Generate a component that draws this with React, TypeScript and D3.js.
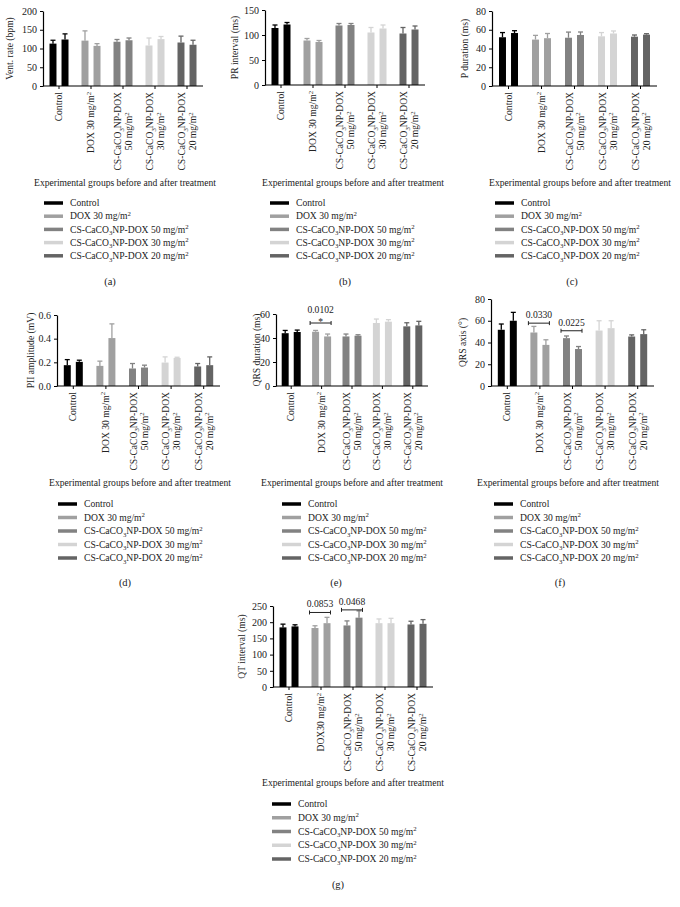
import React, { useEffect, useRef } from "react";
import * as d3 from "d3";

const FONT = "'Liberation Serif', 'Times New Roman', serif";
const FS = 9.6;

// groups and colours
const groupColors = ["#000000", "#a0a0a0", "#828282", "#d4d4d4", "#646464"];
const legendLabels = [
  "Control",
  "DOX 30 mg/m^2",
  "CS-CaCO_3NP-DOX 50 mg/m^2",
  "CS-CaCO_3NP-DOX 30 mg/m^2",
  "CS-CaCO_3NP-DOX 20 mg/m^2",
];
const tickLabels = [
  ["Control"],
  ["DOX 30 mg/m^2"],
  ["CS-CaCO_3NP-DOX", "50 mg/m^2"],
  ["CS-CaCO_3NP-DOX", "30 mg/m^2"],
  ["CS-CaCO_3NP-DOX", "20 mg/m^2"],
];
const tickLabelsQT = [
  ["Control"],
  ["DOX30 mg/m^2"],
  ["CS-CaCO_3NP-DOX", "50 mg/m^2"],
  ["CS-CaCO_3NP-DOX", "30 mg/m^2"],
  ["CS-CaCO_3NP-DOX", "20 mg/m^2"],
];
const xTitle = "Experimental groups before and after treatment";

// [before, after] per group
const ventRateMean = [[113, 124], [121, 107], [118, 122], [108, 125], [116, 110]];
const ventRateErr = [[9, 15], [26, 6], [6, 6], [20, 7], [17, 12]];

const prMean = [[114, 121], [89, 86], [119, 120], [105, 113], [103, 111]];
const prErr = [[6, 4], [4, 3], [4, 3], [10, 7], [12, 7]];

const pDurMean = [[52, 56.5], [49.5, 51], [51.5, 54.4], [53, 56], [52.6, 54.8]];
const pDurErr = [[5, 2.5], [4.5, 5], [6, 3.2], [4, 2.7], [1.8, 1]];

const piiMean = [[0.176, 0.204], [0.17, 0.405], [0.148, 0.156], [0.198, 0.237], [0.165, 0.176]];
const piiErr = [[0.047, 0.014], [0.04, 0.12], [0.042, 0.02], [0.048, 0.006], [0.025, 0.07]];

const qrsDurMean = [[44, 45], [45.2, 41.3], [41.3, 41.9], [52.5, 53.6], [49.7, 50.5]];
const qrsDurErr = [[2.3, 1.6], [1.1, 2], [2, 0.8], [3.3, 1.7], [3, 3.4]];

const qrsAxisMean = [[51.7, 60], [49.2, 37.8], [44, 34], [51, 53.2], [45.5, 47.7]];
const qrsAxisErr = [[5.3, 7.7], [5.6, 4.7], [2, 2.3], [9, 6.8], [1.5, 4]];

const qtMean = [[184, 187], [182, 197], [190, 214], [197, 197], [193, 195]];
const qtErr = [[10, 5], [7, 18], [14, 21], [13, 15], [10, 13]];

// significance brackets: group index, height (data units), p value
const qrsDurSig = [{ group: 1, at: 52.5, p: "0.0102", star: true }];
const qrsAxisSig = [
  { group: 1, at: 57.8, p: "0.0330", star: false },
  { group: 2, at: 50.8, p: "0.0225", star: false },
];
const qtSig = [
  { group: 1, at: 230, p: "0.0853", star: false },
  { group: 2, at: 238, p: "0.0468", star: false },
];

const panels = [
  { mean: ventRateMean, err: ventRateErr, ticks: [0, 50, 100, 150, 200], fmt: "d", yTitle: "Vent. rate (bpm)", labels: tickLabels, sig: [],
    x0: 43, x1: 203, top: 11, bottom: 86, yTitleX: 10, xTitleX: 125, xTitleY: 183, legX: 44, legY: 203, legStep: 13.2, cap: "(a)", capX: 110, capY: 281 },
  { mean: prMean, err: prErr, ticks: [0, 50, 100, 150], fmt: "d", yTitle: "PR interval (ms)", labels: tickLabels, sig: [],
    x0: 265, x1: 425, top: 10, bottom: 85, yTitleX: 235, xTitleX: 353, xTitleY: 183, legX: 270, legY: 203, legStep: 13.2, cap: "(b)", capX: 345, capY: 281 },
  { mean: pDurMean, err: pDurErr, ticks: [0, 20, 40, 60, 80], fmt: "d", yTitle: "P duration (ms)", labels: tickLabels, sig: [],
    x0: 492, x1: 657, top: 11, bottom: 86, yTitleX: 465, xTitleX: 580, xTitleY: 183, legX: 495, legY: 203, legStep: 13.2, cap: "(c)", capX: 572, capY: 281 },
  { mean: piiMean, err: piiErr, ticks: [0, 0.2, 0.4, 0.6], fmt: ".1f", yTitle: "PII amplitude (mV)", labels: tickLabels, sig: [],
    x0: 57, x1: 220, top: 315, bottom: 386, yTitleX: 31, xTitleX: 140, xTitleY: 483, legX: 58, legY: 504, legStep: 13.5, cap: "(d)", capX: 125, capY: 582 },
  { mean: qrsDurMean, err: qrsDurErr, ticks: [0, 20, 40, 60], fmt: "d", yTitle: "QRS duration (ms)", labels: tickLabels, sig: qrsDurSig,
    x0: 276, x1: 428, top: 314, bottom: 386, yTitleX: 257, xTitleX: 352, xTitleY: 483, legX: 282, legY: 504, legStep: 13.5, cap: "(e)", capX: 336, capY: 582 },
  { mean: qrsAxisMean, err: qrsAxisErr, ticks: [0, 20, 40, 60, 80], fmt: "d", yTitle: "QRS axis (°)", labels: tickLabels, sig: qrsAxisSig,
    x0: 491, x1: 654, top: 299, bottom: 386, yTitleX: 463, xTitleX: 568, xTitleY: 483, legX: 494, legY: 504, legStep: 13.5, cap: "(f)", capX: 560, capY: 582 },
  { mean: qtMean, err: qtErr, ticks: [0, 50, 100, 150, 200, 250], fmt: "d", yTitle: "QT interval (ms)", labels: tickLabelsQT, sig: qtSig,
    x0: 273, x1: 433, top: 606, bottom: 687, yTitleX: 242, xTitleX: 353, xTitleY: 783, legX: 272, legY: 804, legStep: 13.75, cap: "(g)", capX: 338, capY: 884 },
];

// text with _x subscripts and ^x superscripts
function rich(text: any, s: string) {
  const parts = s.split(/([_^].)/).filter((p) => p !== "");
  let shift = 0;
  parts.forEach((p) => {
    let target = 0;
    let txt = p;
    let small = false;
    if (p[0] === "_") { target = 2.5; txt = p[1]; small = true; }
    else if (p[0] === "^") { target = -3.5; txt = p[1]; small = true; }
    const t = text.append("tspan").attr("dy", target - shift).text(txt);
    if (small) t.attr("font-size", "0.7em");
    shift = target;
  });
}

function drawPanel(svg: any, L: any) {
  const g = svg.append("g").attr("font-family", FONT).attr("fill", "#222");
  const x = d3.scaleBand<number>().domain(d3.range(5)).range([L.x0, L.x1]);
  const inner = d3.scaleBand<number>().domain([0, 1]).range([-9.5, 9.5]).paddingInner(0.42);
  const y = d3.scaleLinear().domain([0, L.ticks[L.ticks.length - 1]]).range([L.bottom, L.top]);
  const cx = (i: number) => (x(i) as number) + x.bandwidth() / 2;

  // bars + error bars
  L.mean.forEach((pair: number[], gi: number) => {
    pair.forEach((v, k) => {
      const bx = cx(gi) + (inner(k) as number);
      const bw = inner.bandwidth();
      const col = groupColors[gi];
      g.append("rect").attr("x", bx).attr("y", y(v)).attr("width", bw)
        .attr("height", L.bottom - y(v)).attr("fill", col);
      const top = y(v + L.err[gi][k]);
      const mx = bx + bw / 2;
      g.append("line").attr("x1", mx).attr("x2", mx).attr("y1", y(v)).attr("y2", top)
        .attr("stroke", col).attr("stroke-width", 1.3);
      g.append("line").attr("x1", mx - 2.5).attr("x2", mx + 2.5).attr("y1", top).attr("y2", top)
        .attr("stroke", col).attr("stroke-width", 1.3);
    });
  });

  // y axis
  const ya = g.append("g").attr("transform", `translate(${L.x0},0)`)
    .call(d3.axisLeft(y).tickValues(L.ticks).tickSize(3).tickSizeOuter(0).tickPadding(3)
      .tickFormat(d3.format(L.fmt) as any));
  ya.attr("font-family", FONT).attr("font-size", FS + 0.4);
  ya.selectAll("text").attr("fill", "#222");
  ya.select(".domain").attr("stroke-width", 1.2);

  // x axis
  g.append("line").attr("x1", L.x0).attr("x2", L.x1).attr("y1", L.bottom).attr("y2", L.bottom)
    .attr("stroke", "#000").attr("stroke-width", 1.2);
  d3.range(5).forEach((i) => {
    g.append("line").attr("x1", cx(i)).attr("x2", cx(i)).attr("y1", L.bottom).attr("y2", L.bottom + 3)
      .attr("stroke", "#000");
    const lg = g.append("g").attr("transform", `translate(${cx(i)},${L.bottom + 6}) rotate(-90)`)
      .attr("font-size", FS);
    const lines = L.labels[i];
    if (lines.length === 1) {
      const t = lg.append("text").attr("text-anchor", "end").attr("y", 3);
      rich(t, lines[0]);
    } else {
      const t1 = lg.append("text").attr("text-anchor", "end").attr("y", -2);
      rich(t1, lines[0]);
      const len = (t1.node() as SVGTextElement).getComputedTextLength();
      const t2 = lg.append("text").attr("text-anchor", "middle").attr("x", -len / 2).attr("y", 9);
      rich(t2, lines[1]);
    }
  });

  // significance brackets
  L.sig.forEach((s: any) => {
    const xa = cx(s.group) + (inner(0) as number) - 2;
    const xb = cx(s.group) + (inner(1) as number) + inner.bandwidth();
    const yy = y(s.at);
    g.append("line").attr("x1", xa).attr("x2", xb).attr("y1", yy).attr("y2", yy).attr("stroke", "#222");
    [xa, xb].forEach((xx) =>
      g.append("line").attr("x1", xx).attr("x2", xx).attr("y1", yy - 2).attr("y2", yy + 2).attr("stroke", "#222"));
    const mid = (xa + xb) / 2;
    if (s.star) {
      g.append("text").attr("x", mid).attr("y", yy + 1.5).attr("text-anchor", "middle").attr("font-size", FS).text("*");
      g.append("text").attr("x", mid).attr("y", yy - 10).attr("text-anchor", "middle").attr("font-size", FS).text(s.p);
    } else {
      g.append("text").attr("x", mid).attr("y", yy - 5).attr("text-anchor", "middle").attr("font-size", FS).text(s.p);
    }
  });

  // axis titles
  g.append("text").attr("transform", `translate(${L.yTitleX},${(L.top + L.bottom) / 2}) rotate(-90)`)
    .attr("text-anchor", "middle").attr("dy", "0.35em").attr("font-size", FS).text(L.yTitle);
  g.append("text").attr("x", L.xTitleX).attr("y", L.xTitleY).attr("dy", "0.35em")
    .attr("text-anchor", "middle").attr("font-size", FS).text(xTitle);

  // legend
  legendLabels.forEach((lab, i) => {
    const ly = L.legY + i * L.legStep;
    g.append("line").attr("x1", L.legX).attr("x2", L.legX + 19).attr("y1", ly).attr("y2", ly)
      .attr("stroke", groupColors[i]).attr("stroke-width", 3.5);
    const t = g.append("text").attr("x", L.legX + 26).attr("y", ly + 3.2).attr("font-size", FS);
    rich(t, lab);
  });

  // caption
  g.append("text").attr("x", L.capX).attr("y", L.capY).attr("dy", "0.35em")
    .attr("text-anchor", "middle").attr("font-size", 10.5).text(L.cap);
}

export default function App() {
  const ref = useRef<SVGSVGElement>(null);

  useEffect(() => {
    const svg = d3.select(ref.current);
    svg.selectAll("*").remove();
    svg.append("rect").attr("width", 680).attr("height", 907).attr("fill", "#fff");
    panels.forEach((L) => drawPanel(svg, L));
  }, []);

  return (
    <svg ref={ref} width={680} height={907}
      style={{ position: "absolute", left: 0, top: 0, fontFamily: FONT }} />
  );
}
